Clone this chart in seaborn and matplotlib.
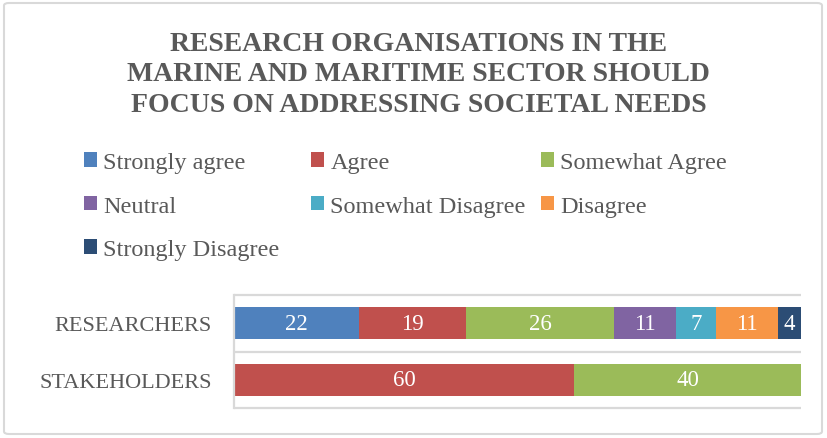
import matplotlib
matplotlib.use("Agg")
import matplotlib.pyplot as plt
from matplotlib.patches import FancyBboxPatch, Patch
import numpy as np
import pandas as pd
import seaborn as sns

# Survey responses (percent of respondents)
groups = ["RESEARCHERS", "STAKEHOLDERS"]
responses = ["Strongly agree", "Agree", "Somewhat Agree", "Neutral",
             "Somewhat Disagree", "Disagree", "Strongly Disagree"]
researchers = [22, 19, 26, 11, 7, 11, 4]
stakeholders = [0, 60, 40, 0, 0, 0, 0]
colors = ["#4F81BD", "#C0504D", "#9BBB59", "#8064A2",
          "#4BACC6", "#F79646", "#2C4D75"]

title = ("RESEARCH ORGANISATIONS IN THE\n"
         "MARINE AND MARITIME SECTOR SHOULD\n"
         "FOCUS ON ADDRESSING SOCIETAL NEEDS")

sns.set_theme(style="white")
plt.rcParams["font.family"] = ["Liberation Serif", "DejaVu Serif"]
text_grey = "#595959"
line_grey = "#D9D9D9"

fig = plt.figure(figsize=(8.27, 4.39), dpi=100)
ax = fig.add_axes([234 / 827, 1 - 409 / 439, (801 - 234) / 827, (409 - 296) / 439])

values = np.array([researchers, stakeholders], dtype=float)
cum = values.cumsum(axis=1)

# Stacked bars: draw cumulative totals from the last segment back to the first
for k in range(len(responses) - 1, -1, -1):
    df = pd.DataFrame({"group": groups, "total": cum[:, k]})
    sns.barplot(data=df, x="total", y="group", orient="h", color=colors[k],
                saturation=1, width=0.56, linewidth=0, ax=ax)

# Segment value labels
for i in range(len(groups)):
    start = 0.0
    for k in range(len(responses)):
        v = values[i, k]
        if v > 0:
            ax.text(start + v / 2, i, f"{int(v)}", ha="center", va="center",
                    color="white", fontsize=16.5)
        start += v

ax.set_xlim(0, 100)
ax.set_ylim(1.5, -0.5)
for yy in (-0.5, 0.5, 1.5):
    ax.plot([0, 100], [yy, yy], color=line_grey, lw=1.6, zorder=0.5,
            clip_on=False, solid_capstyle="butt")
ax.set_xlabel("")
ax.set_ylabel("")
ax.set_xticks([])
ax.tick_params(axis="y", length=0, pad=16, labelsize=16, labelcolor=text_grey)
for s in ("top", "right", "bottom"):
    ax.spines[s].set_visible(False)
ax.spines["left"].set_color(line_grey)
ax.spines["left"].set_linewidth(1.6)

# Title
fig.text(0.506, 1 - 75 / 439, title, ha="center", va="center",
         fontsize=20, fontweight="bold", color=text_grey, linespacing=1.31)

# Legend laid out in three columns, filled row by row
legend_cols = [[0, 3, 6], [1, 4], [2, 5]]
col_x = [84, 311, 541]
for xs, idxs in zip(col_x, legend_cols):
    handles = [Patch(facecolor=colors[j], edgecolor="none") for j in idxs]
    labels = [responses[j] for j in idxs]
    leg = fig.legend(handles, labels, loc="upper left",
                     bbox_to_anchor=(xs / 827, 1 - 153 / 439),
                     frameon=False, fontsize=17.5, borderpad=0, borderaxespad=0,
                     handlelength=0.55, handleheight=0.55, handletextpad=0.25,
                     labelspacing=0.93)
    for t in leg.get_texts():
        t.set_color(text_grey)

# Chart border
fig.patches.append(FancyBboxPatch((4 / 827, 4 / 439), 818 / 827, 431 / 439,
                                  boxstyle="round,pad=0,rounding_size=0.006",
                                  transform=fig.transFigure, facecolor="none",
                                  edgecolor=line_grey, lw=1.5))

fig.savefig("out.png", dpi=100)
